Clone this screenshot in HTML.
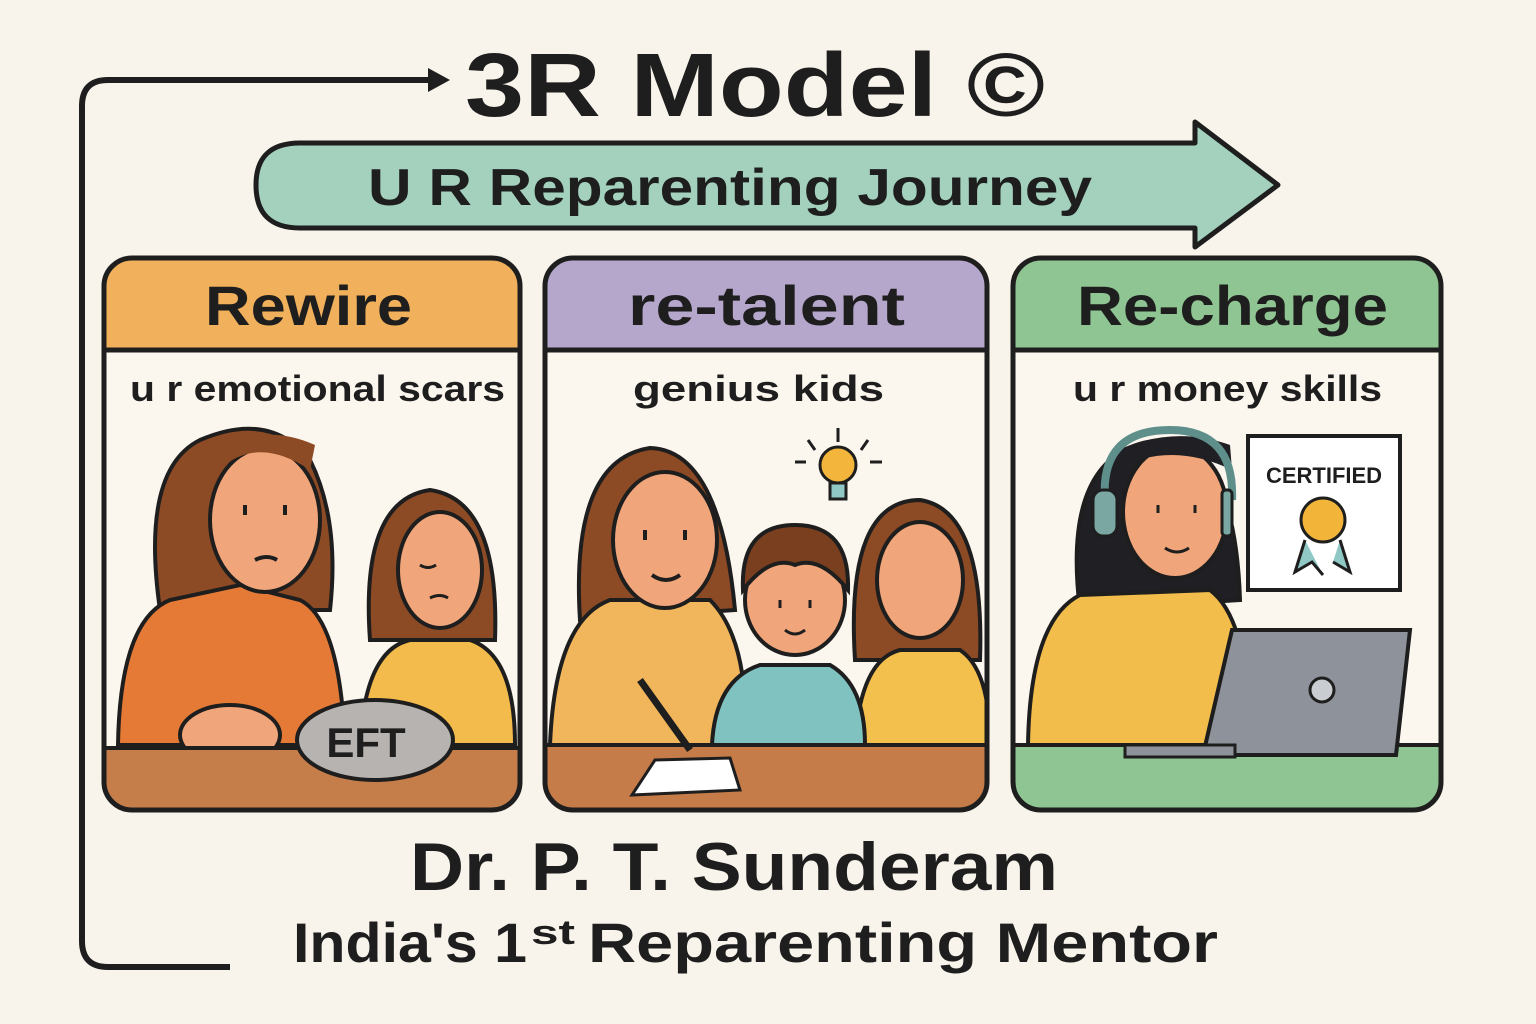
<!DOCTYPE html>
<html><head><meta charset="utf-8"><style>
html,body{margin:0;padding:0;background:#f9f4eb;}
svg{display:block}
text{font-family:"Liberation Sans","DejaVu Sans",sans-serif;font-weight:bold;fill:#1e1e1e}
</style></head><body>
<svg width="1536" height="1024" viewBox="0 0 1536 1024" xmlns="http://www.w3.org/2000/svg">
<rect width="1536" height="1024" fill="#f9f4eb"/>
<path d="M230 967 H108 Q82 967 82 941 V106 Q82 80 108 80 H430" fill="none" stroke="#1e1e1e" stroke-width="6"/>
<polygon points="428,68 450,80 428,92" fill="#1e1e1e"/>
<text x="465" y="116" font-size="90" textLength="580" lengthAdjust="spacingAndGlyphs">3R Model ©</text>
<path d="M300 143 H1195 V122 L1278 185 L1195 247 V228 H300 Q256 228 256 185 Q256 143 300 143 Z" fill="#a3d1bd" stroke="#1e1e1e" stroke-width="5" stroke-linejoin="round"/>
<text x="368" y="205" font-size="52" textLength="724" lengthAdjust="spacingAndGlyphs">U R Reparenting Journey</text>

<defs>
<clipPath id="c1"><rect x="104" y="258" width="416" height="552" rx="28"/></clipPath>
<clipPath id="c2"><rect x="545" y="258" width="442" height="552" rx="28"/></clipPath>
<clipPath id="c3"><rect x="1013" y="258" width="428" height="552" rx="28"/></clipPath>
</defs>
<g clip-path="url(#c1)" stroke="#1e1e1e" stroke-width="4">
<rect x="104" y="258" width="416" height="552" fill="#fbf7ef" stroke="none"/>
<rect x="104" y="258" width="416" height="92" fill="#f1b05b"/>
<path d="M160 610 Q140 470 200 440 Q270 410 310 460 Q340 520 330 610 Z" fill="#8c4a25"/>
<path d="M118 745 Q120 620 170 600 L240 585 L300 600 Q340 620 345 745 Z" fill="#e57a36"/>
<ellipse cx="265" cy="520" rx="55" ry="72" fill="#f0a57a"/>
<path d="M210 480 Q250 430 310 470 L315 445 Q260 420 205 455 Z" fill="#8c4a25" stroke="none"/>
<path d="M245 505 v10 M285 505 v10 M255 560 q12 -6 22 0" fill="none" stroke-width="4"/>
<ellipse cx="230" cy="735" rx="50" ry="30" fill="#f0a57a"/>
<path d="M370 640 Q360 500 430 490 Q500 500 495 640 Z" fill="#8c4a25"/>
<path d="M360 745 Q365 650 410 640 L470 640 Q515 655 515 745 Z" fill="#f3bb4b"/>
<ellipse cx="440" cy="570" rx="42" ry="58" fill="#f0a57a"/>
<path d="M420 565 q8 5 16 0 M430 598 q10 -5 18 0" fill="none" stroke-width="3"/>
<rect x="104" y="748" width="416" height="70" fill="#c57d4a"/>
<ellipse cx="375" cy="740" rx="78" ry="40" fill="#b7b3b1"/>
</g>
<text x="366" y="757" font-size="42" text-anchor="middle">EFT</text>
<rect x="104" y="258" width="416" height="552" rx="28" fill="none" stroke="#1e1e1e" stroke-width="5"/>
<line x1="104" y1="350" x2="520" y2="350" stroke="#1e1e1e" stroke-width="5"/>
<text x="205" y="325" font-size="56" textLength="207" lengthAdjust="spacingAndGlyphs">Rewire</text>
<text x="130" y="401" font-size="36" textLength="375" lengthAdjust="spacingAndGlyphs">u r emotional scars</text>

<g clip-path="url(#c2)" stroke="#1e1e1e" stroke-width="4">
<rect x="545" y="258" width="442" height="552" fill="#fbf7ef" stroke="none"/>
<rect x="545" y="258" width="442" height="92" fill="#b5a6cb"/>
<path d="M580 620 Q570 460 650 448 Q720 450 735 610 Z" fill="#8c4a25"/>
<path d="M550 745 Q555 620 610 600 L710 600 Q750 640 745 745 Z" fill="#f1b55c"/>
<ellipse cx="665" cy="540" rx="52" ry="68" fill="#f0a57a"/>
<path d="M645 530 v10 M685 530 v10 M652 575 q14 10 28 0" fill="none" stroke-width="4"/>
<path d="M855 660 Q845 500 920 500 Q985 510 980 660 Z" fill="#8c4a25"/>
<path d="M855 745 Q860 660 900 650 L960 650 Q990 670 990 745 Z" fill="#f3c04e"/>
<ellipse cx="920" cy="580" rx="43" ry="58" fill="#f0a57a"/>
<path d="M712 745 Q715 680 760 665 L830 665 Q865 685 865 745 Z" fill="#7fc2c0"/>
<ellipse cx="795" cy="600" rx="50" ry="55" fill="#f0a57a"/>
<path d="M743 590 Q740 525 795 525 Q850 525 848 590 Q820 555 795 565 Q770 555 743 590 Z" fill="#7a3f1f"/>
<path d="M780 600 v8 M810 600 v8 M785 630 q10 8 20 0" fill="none" stroke-width="3"/>
<rect x="545" y="745" width="442" height="70" fill="#c57c48"/>
<polygon points="655,760 730,758 740,790 632,795" fill="#fff" stroke-width="3"/>
<path d="M640 680 L690 750" stroke-width="7"/>
<circle cx="838" cy="465" r="18" fill="#f3b53c" stroke-width="3"/>
<rect x="830" y="483" width="16" height="16" fill="#8fc8c5" stroke-width="3"/>
<path d="M838 428 V442 M808 440 L815 450 M868 440 L861 450 M795 462 H806 M870 462 H882" stroke-width="3"/>
</g>
<rect x="545" y="258" width="442" height="552" rx="28" fill="none" stroke="#1e1e1e" stroke-width="5"/>
<line x1="545" y1="350" x2="987" y2="350" stroke="#1e1e1e" stroke-width="5"/>
<text x="628" y="325" font-size="56" textLength="277" lengthAdjust="spacingAndGlyphs">re-talent</text>
<text x="633" y="401" font-size="36" textLength="251" lengthAdjust="spacingAndGlyphs">genius kids</text>

<g clip-path="url(#c3)" stroke="#1e1e1e" stroke-width="4">
<rect x="1013" y="258" width="428" height="552" fill="#fbf7ef" stroke="none"/>
<rect x="1013" y="258" width="428" height="92" fill="#8fc592"/>
<path d="M1080 610 Q1060 450 1160 440 Q1235 445 1240 600 Z" fill="#1f1f24"/>
<path d="M1028 745 Q1030 620 1080 595 L1210 590 Q1250 620 1250 745 Z" fill="#f3bd4c"/>
<ellipse cx="1175" cy="512" rx="52" ry="66" fill="#f0a57a"/>
<path d="M1115 470 Q1170 440 1232 470 L1230 445 Q1175 425 1118 450 Z" fill="#1f1f24" stroke="none"/>
<path d="M1158 505 v8 M1195 505 v8 M1165 548 q12 8 24 0" fill="none" stroke-width="3"/>
<path d="M1105 500 Q1100 430 1170 430 Q1235 430 1232 500" fill="none" stroke="#5f8f8a" stroke-width="8"/>
<rect x="1093" y="490" width="24" height="46" rx="10" fill="#7aa7a2" stroke-width="3"/>
<rect x="1222" y="490" width="10" height="46" rx="4" fill="#7aa7a2" stroke-width="3"/>
<rect x="1248" y="436" width="152" height="154" fill="#fff"/>
<circle cx="1323" cy="520" r="22" fill="#f2b53a" stroke-width="3"/>
<path d="M1305 540 L1295 572 L1312 562 L1323 575 M1340 540 L1350 572 L1333 562" fill="#8fc8c5" stroke-width="3"/>
<rect x="1013" y="745" width="428" height="70" fill="#8fc592"/>
<polygon points="1232,630 1410,630 1396,755 1203,755" fill="#8e939b"/>
<rect x="1125" y="745" width="110" height="12" fill="#8e939b" stroke-width="3"/>
<circle cx="1322" cy="690" r="12" fill="#c9ccd1" stroke-width="3"/>
</g>
<text x="1324" y="483" font-size="22" text-anchor="middle">CERTIFIED</text>
<rect x="1013" y="258" width="428" height="552" rx="28" fill="none" stroke="#1e1e1e" stroke-width="5"/>
<line x1="1013" y1="350" x2="1441" y2="350" stroke="#1e1e1e" stroke-width="5"/>
<text x="1077" y="325" font-size="56" textLength="311" lengthAdjust="spacingAndGlyphs">Re-charge</text>
<text x="1073" y="401" font-size="36" textLength="309" lengthAdjust="spacingAndGlyphs">u r money skills</text>

<text x="410" y="890" font-size="68" textLength="648" lengthAdjust="spacingAndGlyphs">Dr. P. T. Sunderam</text>
<text x="293" y="962" font-size="56" textLength="234" lengthAdjust="spacingAndGlyphs">India's 1</text>
<text x="531" y="944" font-size="34" textLength="44" lengthAdjust="spacingAndGlyphs">st</text>
<text x="588" y="962" font-size="56" textLength="630" lengthAdjust="spacingAndGlyphs">Reparenting Mentor</text>
</svg>
</body></html>
